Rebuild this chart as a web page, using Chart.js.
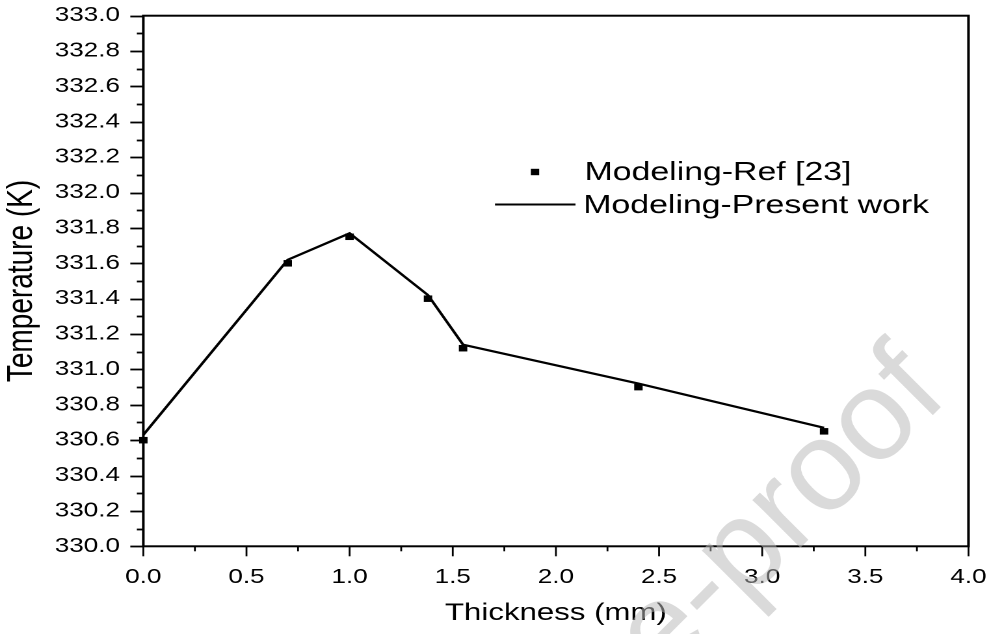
<!DOCTYPE html>
<html><head><meta charset="utf-8">
<script src="https://cdn.jsdelivr.net/npm/chart.js@4.4.0/dist/chart.umd.min.js"></script>
<style>
html,body{margin:0;padding:0;background:#fff;overflow:hidden;}
#wrap{width:762px;height:634px;transform:scaleX(1.3005);transform-origin:0 0;}
</style></head><body>
<div id="wrap"><canvas id="c"></canvas></div>
<script>
// ---- data ----
const thickness = [0, 0.7, 1.0, 1.38, 1.55, 2.4, 3.3];                 // mm
const refTemp = [330.60, 331.60, 331.75, 331.40, 331.12, 330.90, 330.65]; // Modeling-Ref [23]
const presentTemp = [330.63, 331.62, 331.77, 331.42, 331.14, 330.92, 330.67]; // Modeling-Present work
const seriesLabels = ['Modeling-Ref [23]', 'Modeling-Present work'];
const xTitle = 'Thickness (mm)';
const yTitle = 'Temperature (K)';
const xRange = [0, 4.0, 0.5];
const yRange = [330.0, 333.0, 0.2];
const watermark = 'Journal Pre-proof';

const SX = 1.3005;
const FONT = "'Liberation Sans', Arial, Helvetica, sans-serif";
Chart.defaults.font.family = FONT;
Chart.defaults.color = '#000';

const toPts = (xs, ys) => xs.map((x, i) => ({x: x, y: ys[i]}));

const framePlugin = {
  id: 'frameTicks',
  afterDatasetsDraw(chart) {
    const {ctx, chartArea: a, scales: {x, y}} = chart;
    ctx.save();
    ctx.strokeStyle = '#000';
    ctx.lineWidth = 2;
    ctx.strokeRect(a.left, a.top, a.right - a.left, a.bottom - a.top);
    ctx.lineWidth = 1.8;
    const yStep = yRange[2];
    for (let v = yRange[0]; v <= yRange[1] + 1e-9; v += yStep / 2) {
      const k = Math.round((v - yRange[0]) / (yStep / 2));
      const len = (k % 2 === 0) ? 10 : 5;
      const py = Math.round(y.getPixelForValue(v)) + 0.5;
      ctx.beginPath(); ctx.moveTo(a.left, py); ctx.lineTo(a.left - len, py); ctx.stroke();
    }
    const xStep = xRange[2];
    ctx.lineWidth = 1.4;
    for (let v = xRange[0]; v <= xRange[1] + 1e-9; v += xStep / 2) {
      const k = Math.round((v - xRange[0]) / (xStep / 2));
      const len = (k % 2 === 0) ? 10 : 5;
      const px = x.getPixelForValue(v);
      ctx.beginPath(); ctx.moveTo(px, a.bottom); ctx.lineTo(px, a.bottom + len); ctx.stroke();
    }
    ctx.restore();
  }
};

const legendPlugin = {
  id: 'insideLegend',
  afterDraw(chart) {
    const {ctx} = chart;
    const ds = chart.data.datasets;
    ctx.save();
    ctx.font = '26px ' + FONT;
    ctx.fillStyle = '#000';
    ctx.textBaseline = 'middle';
    ctx.textAlign = 'left';
    ctx.fillRect(411.4 - 3.2, 172 - 3.2, 6.4, 6.4);
    ctx.fillText(ds[0].label, 449.5, 173);
    ctx.strokeStyle = '#000';
    ctx.lineWidth = 2;
    ctx.beginPath(); ctx.moveTo(380.6, 204.5); ctx.lineTo(442.5, 204.5); ctx.stroke();
    ctx.fillText(ds[1].label, 448.5, 206);
    ctx.restore();
  }
};

const watermarkPlugin = {
  id: 'watermark',
  afterDraw(chart) {
    const {ctx} = chart;
    ctx.save();
    ctx.scale(1 / SX, 1);
    ctx.translate(950, 398);
    ctx.rotate(-Math.PI * 0.25);
    ctx.font = '128px ' + FONT;
    ctx.fillStyle = 'rgba(185,185,185,0.52)';
    ctx.textAlign = 'right';
    ctx.textBaseline = 'alphabetic';
    ctx.fillText(watermark, 0, 0);
    ctx.restore();
  }
};

new Chart(document.getElementById('c'), {
  type: 'scatter',
  data: {
    datasets: [
      {
        label: seriesLabels[0],
        data: toPts(thickness, refTemp),
        showLine: false,
        pointStyle: 'rect',
        pointRadius: 4.6,
        pointBorderWidth: 0,
        backgroundColor: '#000',
        borderColor: '#000',
        clip: false,
        order: 1
      },
      {
        label: seriesLabels[1],
        data: toPts(thickness, presentTemp),
        showLine: true,
        pointRadius: 0,
        borderColor: '#000',
        borderWidth: 2.2,
        tension: 0,
        clip: false,
        order: 2
      }
    ]
  },
  options: {
    responsive: true,
    maintainAspectRatio: false,
    animation: false,
    devicePixelRatio: 2,
    layout: {padding: {left: 0, right: 17.3, top: 15.7, bottom: 0}},
    plugins: {legend: {display: false}, tooltip: {enabled: false}},
    scales: {
      x: {
        type: 'linear',
        min: xRange[0], max: xRange[1],
        grid: {display: false, drawTicks: false},
        border: {display: false},
        ticks: {stepSize: xRange[2], padding: 19, font: {size: 20}, color: '#000',
                callback: v => Number(v).toFixed(1), maxRotation: 0},
        title: {display: true, text: xTitle, font: {size: 24}, color: '#000',
                padding: {top: 0, bottom: 6}},
        afterFit(s) { s.height = 634 - 546.3; s.paddingLeft = 0; s.paddingRight = 0; }
      },
      y: {
        type: 'linear',
        min: yRange[0], max: yRange[1],
        grid: {display: false, drawTicks: false},
        border: {display: false},
        ticks: {stepSize: yRange[2], padding: 18, font: {size: 20}, color: '#000',
                callback: v => Number(v).toFixed(1)},
        title: {display: true, text: yTitle, font: {size: 28}, color: '#000',
                padding: {top: 0, bottom: 0}},
        afterFit(s) { s.width = 110.2; s.paddingTop = 0; s.paddingBottom = 0; }
      }
    }
  },
  plugins: [framePlugin, legendPlugin, watermarkPlugin]
});
</script>
</body></html>
